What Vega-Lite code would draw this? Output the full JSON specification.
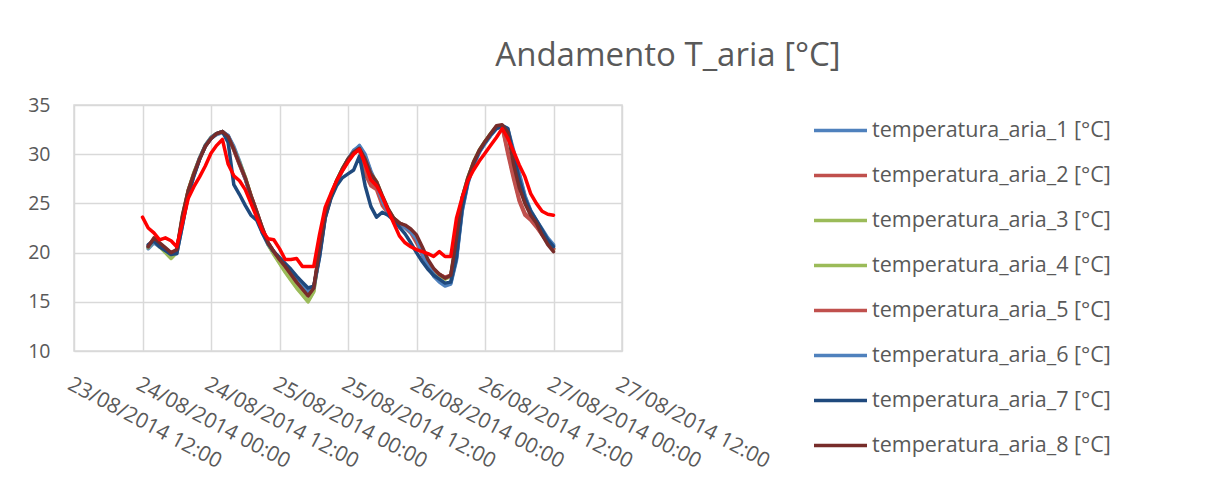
{
"$schema":"https://vega.github.io/schema/vega-lite/v6.json",
"width":548,"height":246,
"autosize":{"type":"none"},
"padding":{"left":74,"top":105,"right":600,"bottom":140},
"background":"white",
"title":{"text":"Andamento T_aria [°C]","anchor":"middle","frame":"group","dx":320,"offset":22,"fontSize":33,"font":"Open Sans","fontWeight":"normal","color":"#595959"},
"data":{"values":[
{"t":"2014-08-24T01:00","s":1,"v":20.4},{"t":"2014-08-24T02:00","s":1,"v":21.0},{"t":"2014-08-24T03:00","s":1,"v":20.6},{"t":"2014-08-24T04:00","s":1,"v":20.2},{"t":"2014-08-24T05:00","s":1,"v":19.8},{"t":"2014-08-24T06:00","s":1,"v":19.9},{"t":"2014-08-24T07:00","s":1,"v":22.8},{"t":"2014-08-24T08:00","s":1,"v":25.9},{"t":"2014-08-24T09:00","s":1,"v":27.8},{"t":"2014-08-24T10:00","s":1,"v":29.5},{"t":"2014-08-24T11:00","s":1,"v":30.8},{"t":"2014-08-24T12:00","s":1,"v":31.6},
{"t":"2014-08-24T13:00","s":1,"v":32.0},{"t":"2014-08-24T14:00","s":1,"v":32.2},{"t":"2014-08-24T15:00","s":1,"v":31.9},{"t":"2014-08-24T16:00","s":1,"v":30.8},{"t":"2014-08-24T17:00","s":1,"v":29.3},{"t":"2014-08-24T18:00","s":1,"v":27.6},{"t":"2014-08-24T19:00","s":1,"v":25.6},{"t":"2014-08-24T20:00","s":1,"v":23.8},{"t":"2014-08-24T21:00","s":1,"v":22.0},{"t":"2014-08-24T22:00","s":1,"v":20.8},{"t":"2014-08-24T23:00","s":1,"v":20.0},{"t":"2014-08-25T00:00","s":1,"v":19.3},
{"t":"2014-08-25T01:00","s":1,"v":18.6},{"t":"2014-08-25T02:00","s":1,"v":17.9},{"t":"2014-08-25T03:00","s":1,"v":17.2},{"t":"2014-08-25T04:00","s":1,"v":16.6},{"t":"2014-08-25T05:00","s":1,"v":16.0},{"t":"2014-08-25T06:00","s":1,"v":16.3},{"t":"2014-08-25T07:00","s":1,"v":19.5},{"t":"2014-08-25T08:00","s":1,"v":23.6},{"t":"2014-08-25T09:00","s":1,"v":25.6},{"t":"2014-08-25T10:00","s":1,"v":27.2},{"t":"2014-08-25T11:00","s":1,"v":28.4},{"t":"2014-08-25T12:00","s":1,"v":29.5},
{"t":"2014-08-25T13:00","s":1,"v":30.3},{"t":"2014-08-25T14:00","s":1,"v":30.9},{"t":"2014-08-25T15:00","s":1,"v":30.0},{"t":"2014-08-25T16:00","s":1,"v":28.3},{"t":"2014-08-25T17:00","s":1,"v":27.0},{"t":"2014-08-25T18:00","s":1,"v":25.3},{"t":"2014-08-25T19:00","s":1,"v":24.0},{"t":"2014-08-25T20:00","s":1,"v":23.4},{"t":"2014-08-25T21:00","s":1,"v":23.0},{"t":"2014-08-25T22:00","s":1,"v":22.5},{"t":"2014-08-25T23:00","s":1,"v":22.0},{"t":"2014-08-26T00:00","s":1,"v":21.5},
{"t":"2014-08-26T01:00","s":1,"v":19.8},{"t":"2014-08-26T02:00","s":1,"v":18.6},{"t":"2014-08-26T03:00","s":1,"v":17.6},{"t":"2014-08-26T04:00","s":1,"v":17.0},{"t":"2014-08-26T05:00","s":1,"v":16.6},{"t":"2014-08-26T06:00","s":1,"v":16.8},{"t":"2014-08-26T07:00","s":1,"v":19.2},{"t":"2014-08-26T08:00","s":1,"v":24.2},{"t":"2014-08-26T09:00","s":1,"v":27.0},{"t":"2014-08-26T10:00","s":1,"v":28.9},{"t":"2014-08-26T11:00","s":1,"v":30.2},{"t":"2014-08-26T12:00","s":1,"v":31.1},
{"t":"2014-08-26T13:00","s":1,"v":31.9},{"t":"2014-08-26T14:00","s":1,"v":32.6},{"t":"2014-08-26T15:00","s":1,"v":32.9},{"t":"2014-08-26T16:00","s":1,"v":32.6},{"t":"2014-08-26T17:00","s":1,"v":30.4},{"t":"2014-08-26T18:00","s":1,"v":28.1},{"t":"2014-08-26T19:00","s":1,"v":25.8},{"t":"2014-08-26T20:00","s":1,"v":24.3},{"t":"2014-08-26T21:00","s":1,"v":23.3},{"t":"2014-08-26T22:00","s":1,"v":22.4},{"t":"2014-08-26T23:00","s":1,"v":21.5},{"t":"2014-08-27T00:00","s":1,"v":20.8},

{"t":"2014-08-24T01:00","s":2,"v":20.6},{"t":"2014-08-24T02:00","s":2,"v":21.3},{"t":"2014-08-24T03:00","s":2,"v":20.9},{"t":"2014-08-24T04:00","s":2,"v":20.4},{"t":"2014-08-24T05:00","s":2,"v":19.9},{"t":"2014-08-24T06:00","s":2,"v":20.2},{"t":"2014-08-24T07:00","s":2,"v":23.5},{"t":"2014-08-24T08:00","s":2,"v":26.2},{"t":"2014-08-24T09:00","s":2,"v":28.0},{"t":"2014-08-24T10:00","s":2,"v":29.6},{"t":"2014-08-24T11:00","s":2,"v":30.8},{"t":"2014-08-24T12:00","s":2,"v":31.6},
{"t":"2014-08-24T13:00","s":2,"v":32.1},{"t":"2014-08-24T14:00","s":2,"v":32.3},{"t":"2014-08-24T15:00","s":2,"v":31.8},{"t":"2014-08-24T16:00","s":2,"v":30.4},{"t":"2014-08-24T17:00","s":2,"v":28.9},{"t":"2014-08-24T18:00","s":2,"v":27.5},{"t":"2014-08-24T19:00","s":2,"v":25.7},{"t":"2014-08-24T20:00","s":2,"v":24.1},{"t":"2014-08-24T21:00","s":2,"v":22.4},{"t":"2014-08-24T22:00","s":2,"v":21.0},{"t":"2014-08-24T23:00","s":2,"v":20.1},{"t":"2014-08-25T00:00","s":2,"v":19.4},
{"t":"2014-08-25T01:00","s":2,"v":18.7},{"t":"2014-08-25T02:00","s":2,"v":17.9},{"t":"2014-08-25T03:00","s":2,"v":17.1},{"t":"2014-08-25T04:00","s":2,"v":16.4},{"t":"2014-08-25T05:00","s":2,"v":15.8},{"t":"2014-08-25T06:00","s":2,"v":16.4},{"t":"2014-08-25T07:00","s":2,"v":19.8},{"t":"2014-08-25T08:00","s":2,"v":23.6},{"t":"2014-08-25T09:00","s":2,"v":25.6},{"t":"2014-08-25T10:00","s":2,"v":27.1},{"t":"2014-08-25T11:00","s":2,"v":28.3},{"t":"2014-08-25T12:00","s":2,"v":29.3},
{"t":"2014-08-25T13:00","s":2,"v":30.1},{"t":"2014-08-25T14:00","s":2,"v":30.5},{"t":"2014-08-25T15:00","s":2,"v":28.0},{"t":"2014-08-25T16:00","s":2,"v":26.8},{"t":"2014-08-25T17:00","s":2,"v":26.4},{"t":"2014-08-25T18:00","s":2,"v":24.8},{"t":"2014-08-25T19:00","s":2,"v":24.0},{"t":"2014-08-25T20:00","s":2,"v":23.5},{"t":"2014-08-25T21:00","s":2,"v":23.0},{"t":"2014-08-25T22:00","s":2,"v":22.6},{"t":"2014-08-25T23:00","s":2,"v":22.0},{"t":"2014-08-26T00:00","s":2,"v":21.0},
{"t":"2014-08-26T01:00","s":2,"v":19.8},{"t":"2014-08-26T02:00","s":2,"v":18.8},{"t":"2014-08-26T03:00","s":2,"v":18.2},{"t":"2014-08-26T04:00","s":2,"v":17.8},{"t":"2014-08-26T05:00","s":2,"v":17.5},{"t":"2014-08-26T06:00","s":2,"v":17.7},{"t":"2014-08-26T07:00","s":2,"v":20.5},{"t":"2014-08-26T08:00","s":2,"v":25.0},{"t":"2014-08-26T09:00","s":2,"v":27.3},{"t":"2014-08-26T10:00","s":2,"v":29.0},{"t":"2014-08-26T11:00","s":2,"v":30.3},{"t":"2014-08-26T12:00","s":2,"v":31.2},
{"t":"2014-08-26T13:00","s":2,"v":32.0},{"t":"2014-08-26T14:00","s":2,"v":32.7},{"t":"2014-08-26T15:00","s":2,"v":32.8},{"t":"2014-08-26T16:00","s":2,"v":30.0},{"t":"2014-08-26T17:00","s":2,"v":27.5},{"t":"2014-08-26T18:00","s":2,"v":25.2},{"t":"2014-08-26T19:00","s":2,"v":23.8},{"t":"2014-08-26T20:00","s":2,"v":23.3},{"t":"2014-08-26T21:00","s":2,"v":22.6},{"t":"2014-08-26T22:00","s":2,"v":21.8},{"t":"2014-08-26T23:00","s":2,"v":21.0},{"t":"2014-08-27T00:00","s":2,"v":20.4},

{"t":"2014-08-24T01:00","s":3,"v":20.5},{"t":"2014-08-24T02:00","s":3,"v":21.2},{"t":"2014-08-24T03:00","s":3,"v":20.6},{"t":"2014-08-24T04:00","s":3,"v":20.0},{"t":"2014-08-24T05:00","s":3,"v":19.4},{"t":"2014-08-24T06:00","s":3,"v":20.0},{"t":"2014-08-24T07:00","s":3,"v":23.6},{"t":"2014-08-24T08:00","s":3,"v":26.3},{"t":"2014-08-24T09:00","s":3,"v":28.1},{"t":"2014-08-24T10:00","s":3,"v":29.6},{"t":"2014-08-24T11:00","s":3,"v":30.9},{"t":"2014-08-24T12:00","s":3,"v":31.7},
{"t":"2014-08-24T13:00","s":3,"v":32.1},{"t":"2014-08-24T14:00","s":3,"v":32.3},{"t":"2014-08-24T15:00","s":3,"v":31.8},{"t":"2014-08-24T16:00","s":3,"v":30.6},{"t":"2014-08-24T17:00","s":3,"v":29.2},{"t":"2014-08-24T18:00","s":3,"v":27.7},{"t":"2014-08-24T19:00","s":3,"v":25.8},{"t":"2014-08-24T20:00","s":3,"v":24.1},{"t":"2014-08-24T21:00","s":3,"v":22.4},{"t":"2014-08-24T22:00","s":3,"v":20.8},{"t":"2014-08-24T23:00","s":3,"v":19.8},{"t":"2014-08-25T00:00","s":3,"v":18.9},
{"t":"2014-08-25T01:00","s":3,"v":18.0},{"t":"2014-08-25T02:00","s":3,"v":17.2},{"t":"2014-08-25T03:00","s":3,"v":16.4},{"t":"2014-08-25T04:00","s":3,"v":15.7},{"t":"2014-08-25T05:00","s":3,"v":15.0},{"t":"2014-08-25T06:00","s":3,"v":16.0},{"t":"2014-08-25T07:00","s":3,"v":20.2},{"t":"2014-08-25T08:00","s":3,"v":23.9},{"t":"2014-08-25T09:00","s":3,"v":25.8},{"t":"2014-08-25T10:00","s":3,"v":27.3},{"t":"2014-08-25T11:00","s":3,"v":28.5},{"t":"2014-08-25T12:00","s":3,"v":29.5},
{"t":"2014-08-25T13:00","s":3,"v":30.2},{"t":"2014-08-25T14:00","s":3,"v":30.6},{"t":"2014-08-25T15:00","s":3,"v":29.6},{"t":"2014-08-25T16:00","s":3,"v":28.1},{"t":"2014-08-25T17:00","s":3,"v":27.2},{"t":"2014-08-25T18:00","s":3,"v":25.7},{"t":"2014-08-25T19:00","s":3,"v":24.4},{"t":"2014-08-25T20:00","s":3,"v":23.5},{"t":"2014-08-25T21:00","s":3,"v":23.0},{"t":"2014-08-25T22:00","s":3,"v":22.7},{"t":"2014-08-25T23:00","s":3,"v":22.2},{"t":"2014-08-26T00:00","s":3,"v":21.5},
{"t":"2014-08-26T01:00","s":3,"v":20.2},{"t":"2014-08-26T02:00","s":3,"v":19.0},{"t":"2014-08-26T03:00","s":3,"v":18.2},{"t":"2014-08-26T04:00","s":3,"v":17.7},{"t":"2014-08-26T05:00","s":3,"v":17.3},{"t":"2014-08-26T06:00","s":3,"v":17.6},{"t":"2014-08-26T07:00","s":3,"v":21.2},{"t":"2014-08-26T08:00","s":3,"v":25.5},{"t":"2014-08-26T09:00","s":3,"v":27.6},{"t":"2014-08-26T10:00","s":3,"v":29.2},{"t":"2014-08-26T11:00","s":3,"v":30.4},{"t":"2014-08-26T12:00","s":3,"v":31.3},
{"t":"2014-08-26T13:00","s":3,"v":32.1},{"t":"2014-08-26T14:00","s":3,"v":32.8},{"t":"2014-08-26T15:00","s":3,"v":32.9},{"t":"2014-08-26T16:00","s":3,"v":32.1},{"t":"2014-08-26T17:00","s":3,"v":29.6},{"t":"2014-08-26T18:00","s":3,"v":27.2},{"t":"2014-08-26T19:00","s":3,"v":25.2},{"t":"2014-08-26T20:00","s":3,"v":23.9},{"t":"2014-08-26T21:00","s":3,"v":23.1},{"t":"2014-08-26T22:00","s":3,"v":22.0},{"t":"2014-08-26T23:00","s":3,"v":21.0},{"t":"2014-08-27T00:00","s":3,"v":20.3},

{"t":"2014-08-24T01:00","s":4,"v":20.6},{"t":"2014-08-24T02:00","s":4,"v":21.3},{"t":"2014-08-24T03:00","s":4,"v":20.7},{"t":"2014-08-24T04:00","s":4,"v":20.1},{"t":"2014-08-24T05:00","s":4,"v":19.5},{"t":"2014-08-24T06:00","s":4,"v":20.1},{"t":"2014-08-24T07:00","s":4,"v":23.7},{"t":"2014-08-24T08:00","s":4,"v":26.3},{"t":"2014-08-24T09:00","s":4,"v":28.1},{"t":"2014-08-24T10:00","s":4,"v":29.6},{"t":"2014-08-24T11:00","s":4,"v":30.9},{"t":"2014-08-24T12:00","s":4,"v":31.7},
{"t":"2014-08-24T13:00","s":4,"v":32.1},{"t":"2014-08-24T14:00","s":4,"v":32.3},{"t":"2014-08-24T15:00","s":4,"v":31.8},{"t":"2014-08-24T16:00","s":4,"v":30.5},{"t":"2014-08-24T17:00","s":4,"v":29.1},{"t":"2014-08-24T18:00","s":4,"v":27.6},{"t":"2014-08-24T19:00","s":4,"v":25.8},{"t":"2014-08-24T20:00","s":4,"v":24.1},{"t":"2014-08-24T21:00","s":4,"v":22.4},{"t":"2014-08-24T22:00","s":4,"v":20.9},{"t":"2014-08-24T23:00","s":4,"v":19.9},{"t":"2014-08-25T00:00","s":4,"v":19.0},
{"t":"2014-08-25T01:00","s":4,"v":18.1},{"t":"2014-08-25T02:00","s":4,"v":17.3},{"t":"2014-08-25T03:00","s":4,"v":16.5},{"t":"2014-08-25T04:00","s":4,"v":15.8},{"t":"2014-08-25T05:00","s":4,"v":15.1},{"t":"2014-08-25T06:00","s":4,"v":16.1},{"t":"2014-08-25T07:00","s":4,"v":20.3},{"t":"2014-08-25T08:00","s":4,"v":23.9},{"t":"2014-08-25T09:00","s":4,"v":25.8},{"t":"2014-08-25T10:00","s":4,"v":27.3},{"t":"2014-08-25T11:00","s":4,"v":28.5},{"t":"2014-08-25T12:00","s":4,"v":29.5},
{"t":"2014-08-25T13:00","s":4,"v":30.2},{"t":"2014-08-25T14:00","s":4,"v":30.6},{"t":"2014-08-25T15:00","s":4,"v":29.5},{"t":"2014-08-25T16:00","s":4,"v":28.0},{"t":"2014-08-25T17:00","s":4,"v":27.2},{"t":"2014-08-25T18:00","s":4,"v":25.7},{"t":"2014-08-25T19:00","s":4,"v":24.4},{"t":"2014-08-25T20:00","s":4,"v":23.5},{"t":"2014-08-25T21:00","s":4,"v":23.0},{"t":"2014-08-25T22:00","s":4,"v":22.7},{"t":"2014-08-25T23:00","s":4,"v":22.3},{"t":"2014-08-26T00:00","s":4,"v":21.6},
{"t":"2014-08-26T01:00","s":4,"v":20.3},{"t":"2014-08-26T02:00","s":4,"v":19.1},{"t":"2014-08-26T03:00","s":4,"v":18.3},{"t":"2014-08-26T04:00","s":4,"v":17.8},{"t":"2014-08-26T05:00","s":4,"v":17.4},{"t":"2014-08-26T06:00","s":4,"v":17.6},{"t":"2014-08-26T07:00","s":4,"v":21.3},{"t":"2014-08-26T08:00","s":4,"v":25.5},{"t":"2014-08-26T09:00","s":4,"v":27.6},{"t":"2014-08-26T10:00","s":4,"v":29.2},{"t":"2014-08-26T11:00","s":4,"v":30.4},{"t":"2014-08-26T12:00","s":4,"v":31.3},
{"t":"2014-08-26T13:00","s":4,"v":32.1},{"t":"2014-08-26T14:00","s":4,"v":32.8},{"t":"2014-08-26T15:00","s":4,"v":32.9},{"t":"2014-08-26T16:00","s":4,"v":32.0},{"t":"2014-08-26T17:00","s":4,"v":29.5},{"t":"2014-08-26T18:00","s":4,"v":27.1},{"t":"2014-08-26T19:00","s":4,"v":25.1},{"t":"2014-08-26T20:00","s":4,"v":23.9},{"t":"2014-08-26T21:00","s":4,"v":23.1},{"t":"2014-08-26T22:00","s":4,"v":22.1},{"t":"2014-08-26T23:00","s":4,"v":21.1},{"t":"2014-08-27T00:00","s":4,"v":20.4},

{"t":"2014-08-24T01:00","s":5,"v":20.7},{"t":"2014-08-24T02:00","s":5,"v":21.4},{"t":"2014-08-24T03:00","s":5,"v":20.9},{"t":"2014-08-24T04:00","s":5,"v":20.4},{"t":"2014-08-24T05:00","s":5,"v":20.0},{"t":"2014-08-24T06:00","s":5,"v":20.2},{"t":"2014-08-24T07:00","s":5,"v":23.6},{"t":"2014-08-24T08:00","s":5,"v":26.2},{"t":"2014-08-24T09:00","s":5,"v":28.0},{"t":"2014-08-24T10:00","s":5,"v":29.5},{"t":"2014-08-24T11:00","s":5,"v":30.8},{"t":"2014-08-24T12:00","s":5,"v":31.6},
{"t":"2014-08-24T13:00","s":5,"v":32.1},{"t":"2014-08-24T14:00","s":5,"v":32.3},{"t":"2014-08-24T15:00","s":5,"v":31.8},{"t":"2014-08-24T16:00","s":5,"v":30.5},{"t":"2014-08-24T17:00","s":5,"v":29.0},{"t":"2014-08-24T18:00","s":5,"v":27.5},{"t":"2014-08-24T19:00","s":5,"v":25.8},{"t":"2014-08-24T20:00","s":5,"v":24.2},{"t":"2014-08-24T21:00","s":5,"v":22.5},{"t":"2014-08-24T22:00","s":5,"v":21.0},{"t":"2014-08-24T23:00","s":5,"v":20.1},{"t":"2014-08-25T00:00","s":5,"v":19.3},
{"t":"2014-08-25T01:00","s":5,"v":18.6},{"t":"2014-08-25T02:00","s":5,"v":17.8},{"t":"2014-08-25T03:00","s":5,"v":17.0},{"t":"2014-08-25T04:00","s":5,"v":16.3},{"t":"2014-08-25T05:00","s":5,"v":15.7},{"t":"2014-08-25T06:00","s":5,"v":16.4},{"t":"2014-08-25T07:00","s":5,"v":20.0},{"t":"2014-08-25T08:00","s":5,"v":23.8},{"t":"2014-08-25T09:00","s":5,"v":25.7},{"t":"2014-08-25T10:00","s":5,"v":27.2},{"t":"2014-08-25T11:00","s":5,"v":28.4},{"t":"2014-08-25T12:00","s":5,"v":29.4},
{"t":"2014-08-25T13:00","s":5,"v":30.1},{"t":"2014-08-25T14:00","s":5,"v":30.5},{"t":"2014-08-25T15:00","s":5,"v":28.3},{"t":"2014-08-25T16:00","s":5,"v":27.0},{"t":"2014-08-25T17:00","s":5,"v":26.6},{"t":"2014-08-25T18:00","s":5,"v":25.0},{"t":"2014-08-25T19:00","s":5,"v":24.1},{"t":"2014-08-25T20:00","s":5,"v":23.5},{"t":"2014-08-25T21:00","s":5,"v":23.0},{"t":"2014-08-25T22:00","s":5,"v":22.7},{"t":"2014-08-25T23:00","s":5,"v":22.1},{"t":"2014-08-26T00:00","s":5,"v":21.2},
{"t":"2014-08-26T01:00","s":5,"v":20.0},{"t":"2014-08-26T02:00","s":5,"v":18.9},{"t":"2014-08-26T03:00","s":5,"v":18.3},{"t":"2014-08-26T04:00","s":5,"v":17.8},{"t":"2014-08-26T05:00","s":5,"v":17.5},{"t":"2014-08-26T06:00","s":5,"v":17.6},{"t":"2014-08-26T07:00","s":5,"v":20.8},{"t":"2014-08-26T08:00","s":5,"v":25.2},{"t":"2014-08-26T09:00","s":5,"v":27.4},{"t":"2014-08-26T10:00","s":5,"v":29.1},{"t":"2014-08-26T11:00","s":5,"v":30.3},{"t":"2014-08-26T12:00","s":5,"v":31.2},
{"t":"2014-08-26T13:00","s":5,"v":32.0},{"t":"2014-08-26T14:00","s":5,"v":32.7},{"t":"2014-08-26T15:00","s":5,"v":32.8},{"t":"2014-08-26T16:00","s":5,"v":30.3},{"t":"2014-08-26T17:00","s":5,"v":27.8},{"t":"2014-08-26T18:00","s":5,"v":25.4},{"t":"2014-08-26T19:00","s":5,"v":24.0},{"t":"2014-08-26T20:00","s":5,"v":23.4},{"t":"2014-08-26T21:00","s":5,"v":22.7},{"t":"2014-08-26T22:00","s":5,"v":21.9},{"t":"2014-08-26T23:00","s":5,"v":21.0},{"t":"2014-08-27T00:00","s":5,"v":20.4},

{"t":"2014-08-24T01:00","s":6,"v":20.6},{"t":"2014-08-24T02:00","s":6,"v":21.2},{"t":"2014-08-24T03:00","s":6,"v":20.7},{"t":"2014-08-24T04:00","s":6,"v":20.3},{"t":"2014-08-24T05:00","s":6,"v":19.9},{"t":"2014-08-24T06:00","s":6,"v":20.1},{"t":"2014-08-24T07:00","s":6,"v":23.0},{"t":"2014-08-24T08:00","s":6,"v":26.0},{"t":"2014-08-24T09:00","s":6,"v":27.9},{"t":"2014-08-24T10:00","s":6,"v":29.6},{"t":"2014-08-24T11:00","s":6,"v":30.9},{"t":"2014-08-24T12:00","s":6,"v":31.7},
{"t":"2014-08-24T13:00","s":6,"v":32.1},{"t":"2014-08-24T14:00","s":6,"v":32.3},{"t":"2014-08-24T15:00","s":6,"v":31.9},{"t":"2014-08-24T16:00","s":6,"v":30.6},{"t":"2014-08-24T17:00","s":6,"v":29.1},{"t":"2014-08-24T18:00","s":6,"v":27.5},{"t":"2014-08-24T19:00","s":6,"v":25.5},{"t":"2014-08-24T20:00","s":6,"v":23.9},{"t":"2014-08-24T21:00","s":6,"v":22.2},{"t":"2014-08-24T22:00","s":6,"v":20.9},{"t":"2014-08-24T23:00","s":6,"v":20.1},{"t":"2014-08-25T00:00","s":6,"v":19.4},
{"t":"2014-08-25T01:00","s":6,"v":18.7},{"t":"2014-08-25T02:00","s":6,"v":18.0},{"t":"2014-08-25T03:00","s":6,"v":17.3},{"t":"2014-08-25T04:00","s":6,"v":16.6},{"t":"2014-08-25T05:00","s":6,"v":16.0},{"t":"2014-08-25T06:00","s":6,"v":16.4},{"t":"2014-08-25T07:00","s":6,"v":19.8},{"t":"2014-08-25T08:00","s":6,"v":23.8},{"t":"2014-08-25T09:00","s":6,"v":25.7},{"t":"2014-08-25T10:00","s":6,"v":27.2},{"t":"2014-08-25T11:00","s":6,"v":28.4},{"t":"2014-08-25T12:00","s":6,"v":29.5},
{"t":"2014-08-25T13:00","s":6,"v":30.4},{"t":"2014-08-25T14:00","s":6,"v":30.8},{"t":"2014-08-25T15:00","s":6,"v":29.8},{"t":"2014-08-25T16:00","s":6,"v":28.2},{"t":"2014-08-25T17:00","s":6,"v":26.9},{"t":"2014-08-25T18:00","s":6,"v":25.3},{"t":"2014-08-25T19:00","s":6,"v":24.1},{"t":"2014-08-25T20:00","s":6,"v":23.4},{"t":"2014-08-25T21:00","s":6,"v":23.0},{"t":"2014-08-25T22:00","s":6,"v":22.6},{"t":"2014-08-25T23:00","s":6,"v":22.1},{"t":"2014-08-26T00:00","s":6,"v":21.4},
{"t":"2014-08-26T01:00","s":6,"v":19.9},{"t":"2014-08-26T02:00","s":6,"v":18.7},{"t":"2014-08-26T03:00","s":6,"v":17.8},{"t":"2014-08-26T04:00","s":6,"v":17.2},{"t":"2014-08-26T05:00","s":6,"v":16.7},{"t":"2014-08-26T06:00","s":6,"v":16.9},{"t":"2014-08-26T07:00","s":6,"v":19.4},{"t":"2014-08-26T08:00","s":6,"v":24.3},{"t":"2014-08-26T09:00","s":6,"v":27.1},{"t":"2014-08-26T10:00","s":6,"v":28.9},{"t":"2014-08-26T11:00","s":6,"v":30.2},{"t":"2014-08-26T12:00","s":6,"v":31.1},
{"t":"2014-08-26T13:00","s":6,"v":31.9},{"t":"2014-08-26T14:00","s":6,"v":32.6},{"t":"2014-08-26T15:00","s":6,"v":32.8},{"t":"2014-08-26T16:00","s":6,"v":32.4},{"t":"2014-08-26T17:00","s":6,"v":30.2},{"t":"2014-08-26T18:00","s":6,"v":27.9},{"t":"2014-08-26T19:00","s":6,"v":25.7},{"t":"2014-08-26T20:00","s":6,"v":24.2},{"t":"2014-08-26T21:00","s":6,"v":23.2},{"t":"2014-08-26T22:00","s":6,"v":22.2},{"t":"2014-08-26T23:00","s":6,"v":21.3},{"t":"2014-08-27T00:00","s":6,"v":20.7},

{"t":"2014-08-24T01:00","s":7,"v":20.8},{"t":"2014-08-24T02:00","s":7,"v":21.2},{"t":"2014-08-24T03:00","s":7,"v":20.6},{"t":"2014-08-24T04:00","s":7,"v":20.2},{"t":"2014-08-24T05:00","s":7,"v":19.8},{"t":"2014-08-24T06:00","s":7,"v":19.9},{"t":"2014-08-24T07:00","s":7,"v":22.8},{"t":"2014-08-24T08:00","s":7,"v":25.8},{"t":"2014-08-24T09:00","s":7,"v":27.8},{"t":"2014-08-24T10:00","s":7,"v":29.5},{"t":"2014-08-24T11:00","s":7,"v":30.8},{"t":"2014-08-24T12:00","s":7,"v":31.6},
{"t":"2014-08-24T13:00","s":7,"v":32.1},{"t":"2014-08-24T14:00","s":7,"v":32.3},{"t":"2014-08-24T15:00","s":7,"v":31.2},{"t":"2014-08-24T16:00","s":7,"v":26.9},{"t":"2014-08-24T17:00","s":7,"v":25.9},{"t":"2014-08-24T18:00","s":7,"v":24.8},{"t":"2014-08-24T19:00","s":7,"v":23.8},{"t":"2014-08-24T20:00","s":7,"v":23.3},{"t":"2014-08-24T21:00","s":7,"v":22.0},{"t":"2014-08-24T22:00","s":7,"v":20.9},{"t":"2014-08-24T23:00","s":7,"v":20.1},{"t":"2014-08-25T00:00","s":7,"v":19.5},
{"t":"2014-08-25T01:00","s":7,"v":18.9},{"t":"2014-08-25T02:00","s":7,"v":18.3},{"t":"2014-08-25T03:00","s":7,"v":17.6},{"t":"2014-08-25T04:00","s":7,"v":17.0},{"t":"2014-08-25T05:00","s":7,"v":16.4},{"t":"2014-08-25T06:00","s":7,"v":16.6},{"t":"2014-08-25T07:00","s":7,"v":19.5},{"t":"2014-08-25T08:00","s":7,"v":23.5},{"t":"2014-08-25T09:00","s":7,"v":25.5},{"t":"2014-08-25T10:00","s":7,"v":26.8},{"t":"2014-08-25T11:00","s":7,"v":27.6},{"t":"2014-08-25T12:00","s":7,"v":28.0},
{"t":"2014-08-25T13:00","s":7,"v":28.4},{"t":"2014-08-25T14:00","s":7,"v":29.8},{"t":"2014-08-25T15:00","s":7,"v":26.8},{"t":"2014-08-25T16:00","s":7,"v":24.7},{"t":"2014-08-25T17:00","s":7,"v":23.6},{"t":"2014-08-25T18:00","s":7,"v":24.1},{"t":"2014-08-25T19:00","s":7,"v":23.8},{"t":"2014-08-25T20:00","s":7,"v":23.3},{"t":"2014-08-25T21:00","s":7,"v":22.6},{"t":"2014-08-25T22:00","s":7,"v":21.9},{"t":"2014-08-25T23:00","s":7,"v":21.0},{"t":"2014-08-26T00:00","s":7,"v":20.0},
{"t":"2014-08-26T01:00","s":7,"v":19.1},{"t":"2014-08-26T02:00","s":7,"v":18.3},{"t":"2014-08-26T03:00","s":7,"v":17.7},{"t":"2014-08-26T04:00","s":7,"v":17.3},{"t":"2014-08-26T05:00","s":7,"v":16.9},{"t":"2014-08-26T06:00","s":7,"v":17.0},{"t":"2014-08-26T07:00","s":7,"v":19.5},{"t":"2014-08-26T08:00","s":7,"v":24.5},{"t":"2014-08-26T09:00","s":7,"v":27.2},{"t":"2014-08-26T10:00","s":7,"v":29.0},{"t":"2014-08-26T11:00","s":7,"v":30.3},{"t":"2014-08-26T12:00","s":7,"v":31.2},
{"t":"2014-08-26T13:00","s":7,"v":32.0},{"t":"2014-08-26T14:00","s":7,"v":32.6},{"t":"2014-08-26T15:00","s":7,"v":32.9},{"t":"2014-08-26T16:00","s":7,"v":32.6},{"t":"2014-08-26T17:00","s":7,"v":30.0},{"t":"2014-08-26T18:00","s":7,"v":27.5},{"t":"2014-08-26T19:00","s":7,"v":25.5},{"t":"2014-08-26T20:00","s":7,"v":24.2},{"t":"2014-08-26T21:00","s":7,"v":23.3},{"t":"2014-08-26T22:00","s":7,"v":22.3},{"t":"2014-08-26T23:00","s":7,"v":21.3},{"t":"2014-08-27T00:00","s":7,"v":20.6},

{"t":"2014-08-24T01:00","s":8,"v":20.6},{"t":"2014-08-24T02:00","s":8,"v":21.5},{"t":"2014-08-24T03:00","s":8,"v":21.0},{"t":"2014-08-24T04:00","s":8,"v":20.5},{"t":"2014-08-24T05:00","s":8,"v":20.0},{"t":"2014-08-24T06:00","s":8,"v":20.3},{"t":"2014-08-24T07:00","s":8,"v":23.8},{"t":"2014-08-24T08:00","s":8,"v":26.3},{"t":"2014-08-24T09:00","s":8,"v":28.0},{"t":"2014-08-24T10:00","s":8,"v":29.5},{"t":"2014-08-24T11:00","s":8,"v":30.8},{"t":"2014-08-24T12:00","s":8,"v":31.6},
{"t":"2014-08-24T13:00","s":8,"v":32.1},{"t":"2014-08-24T14:00","s":8,"v":32.3},{"t":"2014-08-24T15:00","s":8,"v":31.8},{"t":"2014-08-24T16:00","s":8,"v":30.5},{"t":"2014-08-24T17:00","s":8,"v":29.0},{"t":"2014-08-24T18:00","s":8,"v":27.6},{"t":"2014-08-24T19:00","s":8,"v":25.8},{"t":"2014-08-24T20:00","s":8,"v":24.2},{"t":"2014-08-24T21:00","s":8,"v":22.5},{"t":"2014-08-24T22:00","s":8,"v":21.0},{"t":"2014-08-24T23:00","s":8,"v":20.1},{"t":"2014-08-25T00:00","s":8,"v":19.3},
{"t":"2014-08-25T01:00","s":8,"v":18.6},{"t":"2014-08-25T02:00","s":8,"v":17.8},{"t":"2014-08-25T03:00","s":8,"v":17.0},{"t":"2014-08-25T04:00","s":8,"v":16.3},{"t":"2014-08-25T05:00","s":8,"v":15.6},{"t":"2014-08-25T06:00","s":8,"v":16.4},{"t":"2014-08-25T07:00","s":8,"v":20.5},{"t":"2014-08-25T08:00","s":8,"v":24.0},{"t":"2014-08-25T09:00","s":8,"v":25.8},{"t":"2014-08-25T10:00","s":8,"v":27.3},{"t":"2014-08-25T11:00","s":8,"v":28.5},{"t":"2014-08-25T12:00","s":8,"v":29.5},
{"t":"2014-08-25T13:00","s":8,"v":30.2},{"t":"2014-08-25T14:00","s":8,"v":30.6},{"t":"2014-08-25T15:00","s":8,"v":29.5},{"t":"2014-08-25T16:00","s":8,"v":28.0},{"t":"2014-08-25T17:00","s":8,"v":27.2},{"t":"2014-08-25T18:00","s":8,"v":25.8},{"t":"2014-08-25T19:00","s":8,"v":24.5},{"t":"2014-08-25T20:00","s":8,"v":23.5},{"t":"2014-08-25T21:00","s":8,"v":23.0},{"t":"2014-08-25T22:00","s":8,"v":22.8},{"t":"2014-08-25T23:00","s":8,"v":22.4},{"t":"2014-08-26T00:00","s":8,"v":21.8},
{"t":"2014-08-26T01:00","s":8,"v":20.6},{"t":"2014-08-26T02:00","s":8,"v":19.3},{"t":"2014-08-26T03:00","s":8,"v":18.4},{"t":"2014-08-26T04:00","s":8,"v":17.8},{"t":"2014-08-26T05:00","s":8,"v":17.4},{"t":"2014-08-26T06:00","s":8,"v":17.7},{"t":"2014-08-26T07:00","s":8,"v":21.5},{"t":"2014-08-26T08:00","s":8,"v":25.6},{"t":"2014-08-26T09:00","s":8,"v":27.6},{"t":"2014-08-26T10:00","s":8,"v":29.2},{"t":"2014-08-26T11:00","s":8,"v":30.4},{"t":"2014-08-26T12:00","s":8,"v":31.3},
{"t":"2014-08-26T13:00","s":8,"v":32.1},{"t":"2014-08-26T14:00","s":8,"v":32.9},{"t":"2014-08-26T15:00","s":8,"v":33.0},{"t":"2014-08-26T16:00","s":8,"v":32.2},{"t":"2014-08-26T17:00","s":8,"v":29.0},{"t":"2014-08-26T18:00","s":8,"v":26.6},{"t":"2014-08-26T19:00","s":8,"v":25.0},{"t":"2014-08-26T20:00","s":8,"v":23.8},{"t":"2014-08-26T21:00","s":8,"v":23.0},{"t":"2014-08-26T22:00","s":8,"v":21.8},{"t":"2014-08-26T23:00","s":8,"v":20.8},{"t":"2014-08-27T00:00","s":8,"v":20.1},

{"t":"2014-08-24T00:00","s":9,"v":23.6},
{"t":"2014-08-24T01:00","s":9,"v":22.5},{"t":"2014-08-24T02:00","s":9,"v":22.0},{"t":"2014-08-24T03:00","s":9,"v":21.3},{"t":"2014-08-24T04:00","s":9,"v":21.5},{"t":"2014-08-24T05:00","s":9,"v":21.2},{"t":"2014-08-24T06:00","s":9,"v":20.6},{"t":"2014-08-24T07:00","s":9,"v":23.0},{"t":"2014-08-24T08:00","s":9,"v":25.5},{"t":"2014-08-24T09:00","s":9,"v":26.7},{"t":"2014-08-24T10:00","s":9,"v":27.7},{"t":"2014-08-24T11:00","s":9,"v":28.8},{"t":"2014-08-24T12:00","s":9,"v":30.1},
{"t":"2014-08-24T13:00","s":9,"v":30.9},{"t":"2014-08-24T14:00","s":9,"v":31.5},{"t":"2014-08-24T15:00","s":9,"v":29.0},{"t":"2014-08-24T16:00","s":9,"v":27.8},{"t":"2014-08-24T17:00","s":9,"v":27.3},{"t":"2014-08-24T18:00","s":9,"v":26.4},{"t":"2014-08-24T19:00","s":9,"v":25.0},{"t":"2014-08-24T20:00","s":9,"v":23.6},{"t":"2014-08-24T21:00","s":9,"v":22.2},{"t":"2014-08-24T22:00","s":9,"v":21.4},{"t":"2014-08-24T23:00","s":9,"v":21.3},{"t":"2014-08-25T00:00","s":9,"v":20.4},
{"t":"2014-08-25T01:00","s":9,"v":19.3},{"t":"2014-08-25T02:00","s":9,"v":19.3},{"t":"2014-08-25T03:00","s":9,"v":19.4},{"t":"2014-08-25T04:00","s":9,"v":18.6},{"t":"2014-08-25T05:00","s":9,"v":18.6},{"t":"2014-08-25T06:00","s":9,"v":18.6},{"t":"2014-08-25T07:00","s":9,"v":21.8},{"t":"2014-08-25T08:00","s":9,"v":24.6},{"t":"2014-08-25T09:00","s":9,"v":26.0},{"t":"2014-08-25T10:00","s":9,"v":27.3},{"t":"2014-08-25T11:00","s":9,"v":28.3},{"t":"2014-08-25T12:00","s":9,"v":29.2},
{"t":"2014-08-25T13:00","s":9,"v":30.0},{"t":"2014-08-25T14:00","s":9,"v":30.5},{"t":"2014-08-25T15:00","s":9,"v":29.0},{"t":"2014-08-25T16:00","s":9,"v":27.4},{"t":"2014-08-25T17:00","s":9,"v":26.8},{"t":"2014-08-25T18:00","s":9,"v":25.7},{"t":"2014-08-25T19:00","s":9,"v":24.3},{"t":"2014-08-25T20:00","s":9,"v":23.0},{"t":"2014-08-25T21:00","s":9,"v":21.7},{"t":"2014-08-25T22:00","s":9,"v":21.0},{"t":"2014-08-25T23:00","s":9,"v":20.6},{"t":"2014-08-26T00:00","s":9,"v":20.3},
{"t":"2014-08-26T01:00","s":9,"v":20.1},{"t":"2014-08-26T02:00","s":9,"v":19.9},{"t":"2014-08-26T03:00","s":9,"v":19.6},{"t":"2014-08-26T04:00","s":9,"v":20.1},{"t":"2014-08-26T05:00","s":9,"v":19.6},{"t":"2014-08-26T06:00","s":9,"v":19.6},{"t":"2014-08-26T07:00","s":9,"v":23.5},{"t":"2014-08-26T08:00","s":9,"v":25.6},{"t":"2014-08-26T09:00","s":9,"v":27.3},{"t":"2014-08-26T10:00","s":9,"v":28.4},{"t":"2014-08-26T11:00","s":9,"v":29.3},{"t":"2014-08-26T12:00","s":9,"v":30.1},
{"t":"2014-08-26T13:00","s":9,"v":30.9},{"t":"2014-08-26T14:00","s":9,"v":31.7},{"t":"2014-08-26T15:00","s":9,"v":32.6},{"t":"2014-08-26T16:00","s":9,"v":31.6},{"t":"2014-08-26T17:00","s":9,"v":30.3},{"t":"2014-08-26T18:00","s":9,"v":28.9},{"t":"2014-08-26T19:00","s":9,"v":27.7},{"t":"2014-08-26T20:00","s":9,"v":26.0},{"t":"2014-08-26T21:00","s":9,"v":25.0},{"t":"2014-08-26T22:00","s":9,"v":24.2},{"t":"2014-08-26T23:00","s":9,"v":23.9},{"t":"2014-08-27T00:00","s":9,"v":23.8}
]},
"mark":{"type":"line","strokeWidth":3.5,"strokeJoin":"round","strokeCap":"round"},
"encoding":{
"x":{"field":"t","type":"temporal","scale":{"domain":[{"year":2014,"month":8,"date":23,"hours":12},{"year":2014,"month":8,"date":27,"hours":12}],"nice":false},
"axis":{"title":null,"format":"%d/%m/%Y %H:%M","values":[{"year":2014,"month":8,"date":23,"hours":12},{"year":2014,"month":8,"date":24,"hours":0},{"year":2014,"month":8,"date":24,"hours":12},{"year":2014,"month":8,"date":25,"hours":0},{"year":2014,"month":8,"date":25,"hours":12},{"year":2014,"month":8,"date":26,"hours":0},{"year":2014,"month":8,"date":26,"hours":12},{"year":2014,"month":8,"date":27,"hours":0},{"year":2014,"month":8,"date":27,"hours":12}],"labelAngle":28,"labelAlign":"left","labelBaseline":"top","labelPadding":22,"labelFontSize":21,"labelColor":"#595959","labelFont":"Open Sans","ticks":false,"domain":false,"grid":true,"gridColor":"#D9D9D9","gridWidth":1.5,"labelOverlap":false,"labelFlush":false}},
"y":{"field":"v","type":"quantitative","scale":{"domain":[10,35],"nice":false,"zero":false},
"axis":{"title":null,"values":[10,15,20,25,30,35],"labelPadding":24,"labelFontSize":19.5,"labelColor":"#595959","labelFont":"Open Sans","ticks":false,"domain":false,"grid":true,"gridColor":"#D9D9D9","gridWidth":1.5}},
"color":{"field":"s","type":"nominal","scale":{"domain":[1,2,3,4,5,6,7,8,9],"range":["#4F81BD","#C0504D","#9BBB59","#9BBB59","#C0504D","#4F81BD","#1F497D","#772C2A","#FF0000"]},
"legend":{"title":null,"orient":"none","legendX":738,"legendY":-3,"values":[1,2,3,4,5,6,7,8],"symbolType":"stroke","symbolSize":2809,"symbolStrokeWidth":3.5,"labelOffset":3,"rowPadding":6,"labelFontSize":21.5,"labelColor":"#595959","labelFont":"Open Sans","labelLimit":400,"labelExpr":"'temperatura_aria_' + datum.label + ' [°C]'"}}
},
"config":{"font":"Open Sans","view":{"stroke":"#D9D9D9","strokeWidth":1.5}}
}
